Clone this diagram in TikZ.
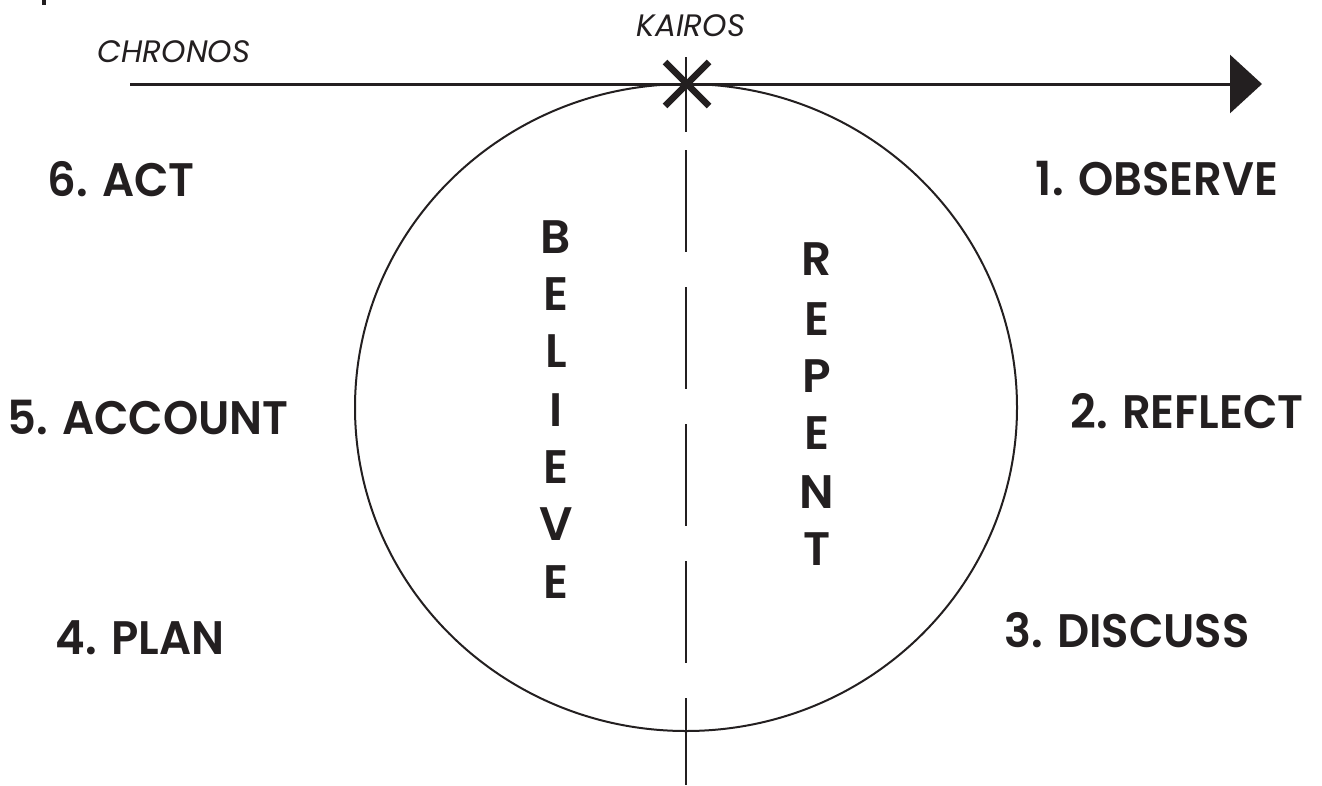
\documentclass[tikz,border=0pt]{standalone}
\usepackage{fontspec}
\setmainfont{Poppins}[BoldFont={Poppins SemiBold}, ItalicFont={Poppins Italic}]
\newfontfamily\lblfont{Poppins SemiBold}[FakeStretch=0.955]
\usetikzlibrary{arrows.meta,calc}
\definecolor{ink}{HTML}{231F20}
\tikzset{
  big/.style={font=\lblfont\fontsize{47}{50}\selectfont, text=ink, inner sep=0pt, anchor=base},
  letter/.style={font=\fontsize{47}{50}\selectfont\bfseries, text=ink, inner sep=0pt, anchor=base},
  small/.style={font=\fontsize{31}{34}\selectfont\itshape, text=ink, inner sep=0pt, anchor=base},
}
\begin{document}
\begin{tikzpicture}[x=1pt,y=-1pt]
\useasboundingbox (0,0) rectangle (1322,785);
\fill[ink] (42,0) rectangle (46,5);
% time axis
\coordinate (chronosStart) at (130,84);
\coordinate (arrowTip) at (1262,84);
\draw[ink, line width=3pt, -{Triangle[length=32pt,width=58pt]}] (chronosStart) -- (arrowTip);
% circle
\draw[ink, line width=2pt] (686,407.5) ellipse [x radius=331pt, y radius=323.5pt];
% vertical axis
\coordinate (axTop) at (686,57);
\coordinate (axMid) at (686,132);
\coordinate (axDash) at (686,150);
\coordinate (axBot) at (686,785);
\draw[ink, line width=2.2pt] (axTop) -- (axMid);
\draw[ink, line width=2.2pt, dash pattern=on 102pt off 35pt] (axDash) -- (axBot);
% kairos mark
\coordinate (kairos) at (687,84);
\draw[ink, line width=6.5pt] ($(kairos)+(-22,-22)$) -- ($(kairos)+(22,22)$);
\draw[ink, line width=6.5pt] ($(kairos)+(-22,22)$) -- ($(kairos)+(22,-22)$);
% labels
\node[small] (chronos) at (174,62) {CHRONOS};
\node[small] (kairosLbl) at (691,36) {KAIROS};
\node[big] (act) at (121,196) {6. ACT};
\node[big] (observe) at (1157,195) {1. OBSERVE};
\node[big] (account) at (148,434) {5. ACCOUNT};
\node[big] (reflect) at (1187,428) {2. REFLECT};
\node[big] (plan) at (140,654) {4. PLAN};
\node[big] (discuss) at (1127,647) {3. DISCUSS};
% BELIEVE
\node[letter] (b1) at (556,253) {B};
\node[letter] (b2) at (556,310) {E};
\node[letter] (b3) at (556,367) {L};
\node[letter] (b4) at (556,426) {I};
\node[letter] (b5) at (556,483) {E};
\node[letter] (b6) at (556,540) {V};
\node[letter] (b7) at (556,598) {E};
% REPENT
\node[letter] (r1) at (817,275) {R};
\node[letter] (r2) at (817,335) {E};
\node[letter] (r3) at (817,392) {P};
\node[letter] (r4) at (817,449) {E};
\node[letter] (r5) at (817,508) {N};
\node[letter] (r6) at (817,565) {T};
\end{tikzpicture}
\end{document}
